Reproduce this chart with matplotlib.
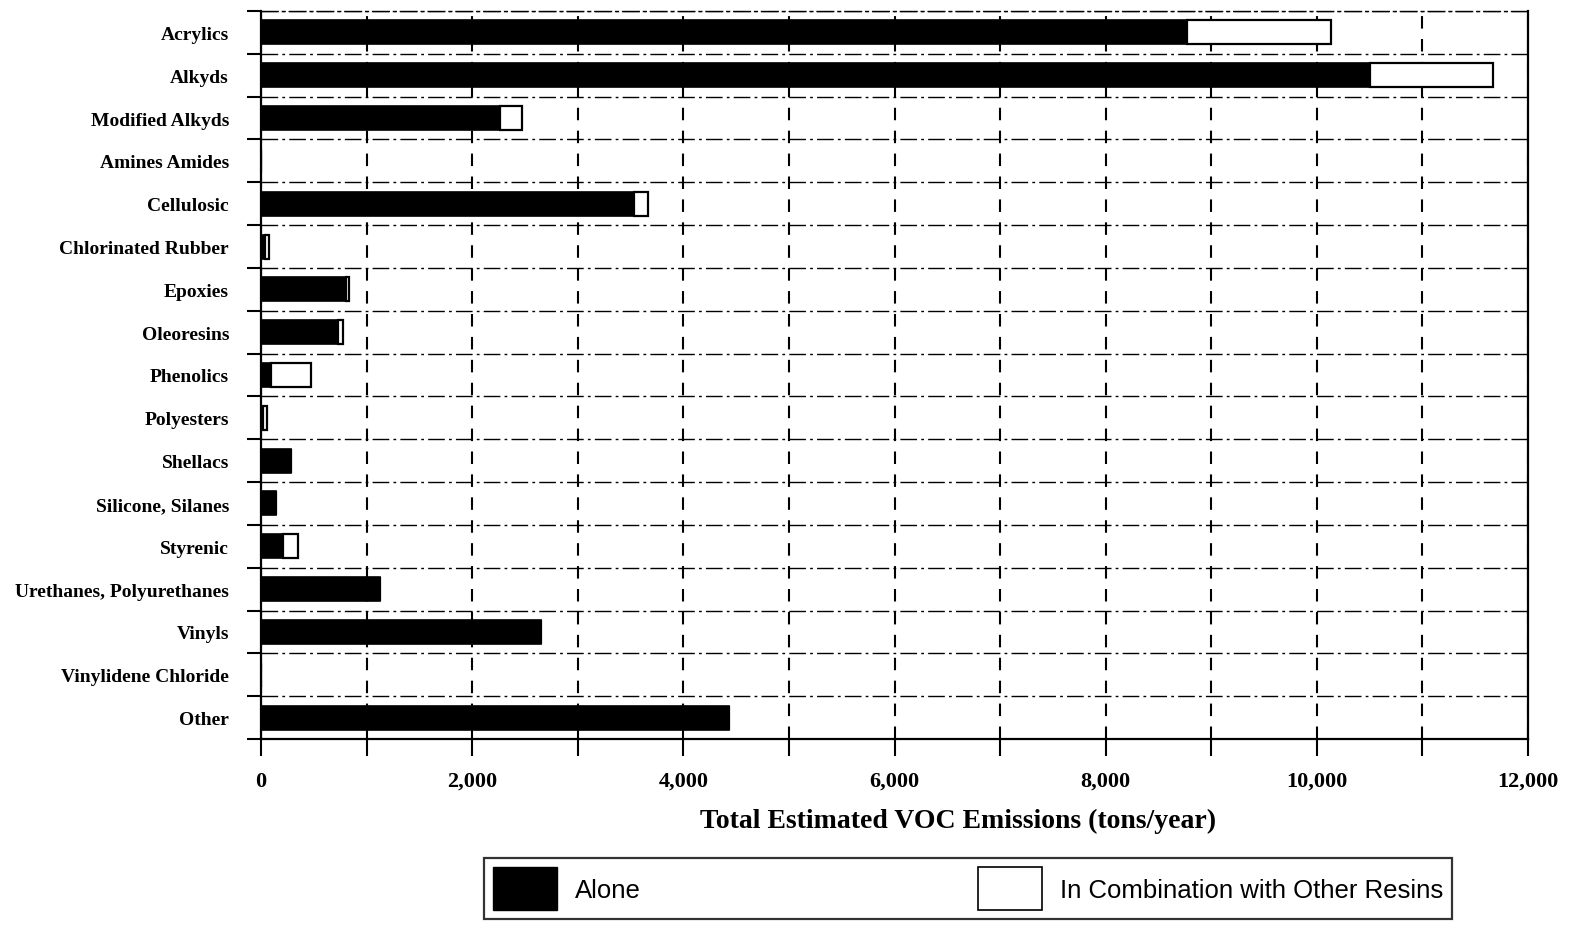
import matplotlib
matplotlib.use("Agg")
import matplotlib.pyplot as plt
from matplotlib.patches import Patch
from matplotlib.ticker import MultipleLocator, FuncFormatter
import numpy as np

categories = ["Acrylics", "Alkyds", "Modified Alkyds", "Amines Amides", "Cellulosic",
              "Chlorinated Rubber", "Epoxies", "Oleoresins", "Phenolics", "Polyesters",
              "Shellacs", "Silicone, Silanes", "Styrenic", "Urethanes, Polyurethanes",
              "Vinyls", "Vinylidene Chloride", "Other"]
alone = [8770, 10500, 2265, 0, 3530, 40, 805, 730, 95, 20, 285, 140, 205, 1125, 2650, 0, 4430]
combination = [1360, 1170, 205, 0, 135, 35, 30, 45, 380, 35, 0, 0, 145, 0, 0, 0, 0]

serif = ["Liberation Serif", "DejaVu Serif"]
sans = ["Liberation Sans", "DejaVu Sans"]

fig = plt.figure(figsize=(15.8, 9.28), dpi=100)
ax = fig.add_axes([261/1580, 1-740/928, (1528-261)/1580, (740-12)/928])

y = np.arange(len(categories))
h = 0.56
ax.barh(y, alone, height=h, color="black", edgecolor="black", linewidth=1.2, zorder=3)
ax.barh(y, combination, left=alone, height=h, color="white", edgecolor="black",
        linewidth=1.6, zorder=3)

ax.set_xlim(0, 12000)
ax.set_ylim(len(categories) - 0.5, -0.5)

ax.xaxis.set_major_locator(MultipleLocator(2000))
ax.xaxis.set_minor_locator(MultipleLocator(1000))
ax.xaxis.set_major_formatter(FuncFormatter(lambda v, p: f"{int(v):,}"))
ax.set_yticks(y)
ax.set_yticklabels(categories, fontfamily=serif, fontweight="bold", fontsize=14)
ax.set_yticks(np.arange(len(categories) + 1) - 0.5, minor=True)

ax.tick_params(axis="y", which="major", length=0, pad=23)
ax.tick_params(axis="y", which="minor", length=10, width=1.5, direction="out")
ax.tick_params(axis="x", which="both", length=12, width=1.5, direction="out", pad=11)
for lbl in ax.get_xticklabels():
    lbl.set_fontfamily(serif)
    lbl.set_fontweight("bold")
    lbl.set_fontsize(16)

ax.grid(axis="x", which="both", color="black", linestyle=(0, (6, 5)), linewidth=1.5, zorder=0)
ax.grid(axis="y", which="minor", color="black", linestyle=(0, (12, 3, 2, 3)), linewidth=1.0, zorder=0)
ax.grid(axis="y", which="major", visible=False)

for s in ["left", "bottom", "right"]:
    ax.spines[s].set_linewidth(1.6)
ax.spines["top"].set_linestyle((0, (12, 3, 2, 3)))
ax.spines["top"].set_linewidth(1.0)

ax.set_xlabel("Total Estimated VOC Emissions (tons/year)", fontfamily=serif,
              fontweight="bold", fontsize=20)
ax.xaxis.set_label_coords(0.55, -0.095)

handles = [Patch(facecolor="black", edgecolor="black", label="Alone"),
           Patch(facecolor="white", edgecolor="black", linewidth=1.2,
                 label="In Combination with Other Resins")]
leg = fig.legend(handles=handles, loc="lower left", ncol=2, mode="expand",
                 bbox_to_anchor=(484/1580, 1-920/928, (1452-484)/1580, 68/928),
                 prop={"family": sans, "size": 18.5}, handlelength=2.5, handleheight=2.2,
                 frameon=True, fancybox=False, edgecolor="black", borderaxespad=0,
                 borderpad=0.35, handletextpad=0.7)
leg.get_frame().set_linewidth(1.6)

fig.savefig("out.png", dpi=100, facecolor="white")
